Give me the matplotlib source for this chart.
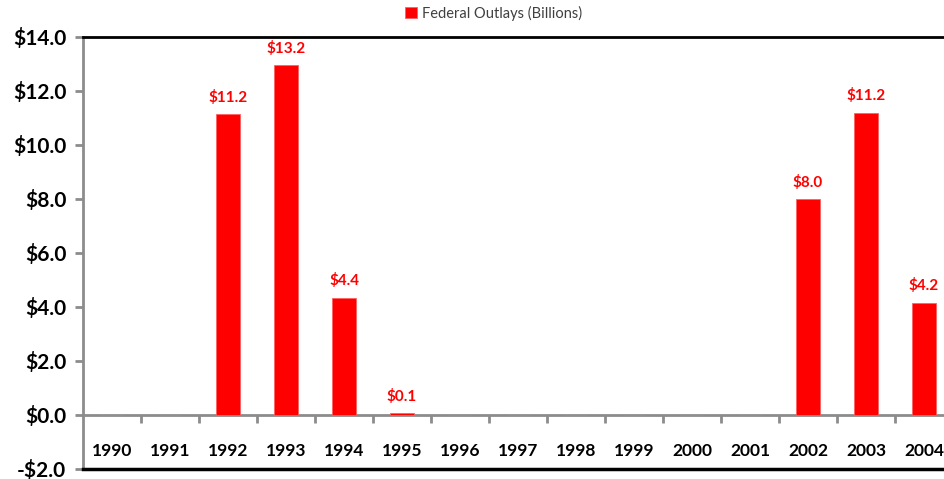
import numpy as np
import matplotlib
matplotlib.use('Agg')
from matplotlib import pyplot as plt

years = ['1990', '1991', '1992', '1993', '1994', '1995', '1996', '1997',
         '1998', '1999', '2000', '2001', '2002', '2003', '2004']
outlays = [0, 0, 11.15, 12.95, 4.35, 0.07, 0, 0, 0, 0, 0, 0, 8.0, 11.2, 4.15]
labels = ['', '', '$11.2', '$13.2', '$4.4', '$0.1', '', '', '', '', '', '', '$8.0', '$11.2', '$4.2']
yticks = [-2, 0, 2, 4, 6, 8, 10, 12, 14]

plt.rcParams['font.family'] = ['Lato', 'DejaVu Sans']

fig = plt.figure(figsize=(9.44, 4.79), dpi=100)
ax = fig.add_axes([83/944, 10/479, 870/944, 432/479])

x = np.arange(len(years))
bars = ax.bar(x, outlays, width=0.4, color='#FF0000', edgecolor='#FF6060',
              linewidth=0.6, label='Federal Outlays (Billions)', zorder=3)

for xi, v, lab in zip(x, outlays, labels):
    if lab:
        ax.text(xi, v + 0.35, lab, ha='center', va='bottom', color='#FF0000',
                fontsize=11, fontweight='bold')

ax.set_xlim(-0.5, len(years) - 0.5)
ax.set_ylim(-2, 14)
ax.set_yticks(yticks)
ax.set_yticklabels(['-$%.1f' % abs(t) if t < 0 else '$%.1f' % t for t in yticks],
                   fontsize=15, fontweight='bold')

ax.spines['bottom'].set_position(('data', 0))
ax.spines['bottom'].set_color('#8c8c8c')
ax.spines['bottom'].set_linewidth(2)
ax.spines['left'].set_color('#8c8c8c')
ax.spines['left'].set_linewidth(2)
ax.spines['top'].set_color('black')
ax.spines['top'].set_linewidth(2)
ax.spines['right'].set_visible(False)
ax.axhline(-2, color='black', lw=2.5, clip_on=False, zorder=4)

ax.set_xticks(x)
ax.set_xticklabels(years, fontsize=12.5, fontweight='bold')
ax.set_xticks(x[1:] - 0.5, minor=True)
ax.tick_params(axis='x', which='major', length=0, pad=20)
ax.tick_params(axis='x', which='minor', length=6, width=2, color='#8c8c8c')
ax.tick_params(axis='y', length=6, width=2, color='#8c8c8c', pad=6)

fig.legend(handles=[bars], loc='center', bbox_to_anchor=(0.523, 0.972),
           frameon=False, fontsize=10.5, handlelength=0.8, handleheight=0.8,
           handletextpad=0.4, labelcolor='#404040')

fig.savefig('out.png', dpi=100)
